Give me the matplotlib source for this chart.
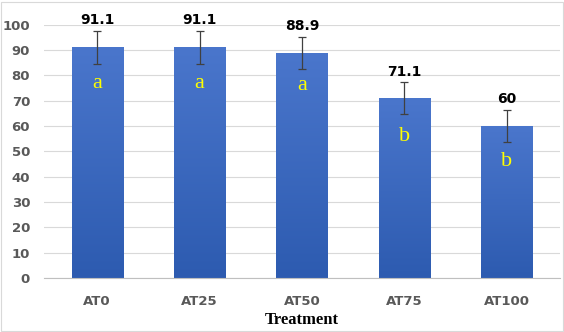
import matplotlib
matplotlib.use("Agg")
import matplotlib.pyplot as plt
import numpy as np
from matplotlib.patches import Rectangle
from matplotlib.colors import LinearSegmentedColormap

categories = ["AT0", "AT25", "AT50", "AT75", "AT100"]
values = [91.1, 91.1, 88.9, 71.1, 60]
errors = [6.5, 6.5, 6.5, 6.2, 6.3]
value_labels = ["91.1", "91.1", "88.9", "71.1", "60"]
letters = ["a", "a", "a", "b", "b"]
letter_y = [77, 77, 76, 56, 46]

fig = plt.figure(figsize=(5.64, 3.32), dpi=100)
ax = fig.add_axes([0.078, 0.163, 0.915, 0.762])
x = np.arange(len(categories))
bars = ax.bar(x, values, width=0.5, color="#4472C4", zorder=2)

grad = np.linspace(0, 1, 256).reshape(-1, 1)
cmap = LinearSegmentedColormap.from_list("g", ["#2D5BB0", "#4A76CC"])
for b in bars:
    im = ax.imshow(grad, extent=[b.get_x(), b.get_x() + b.get_width(), 0, b.get_height()],
                   origin="lower", aspect="auto", cmap=cmap, zorder=2.5)
    im.set_clip_path(b)

ax.errorbar(x, values, yerr=errors, fmt="none", ecolor="#404040", elinewidth=0.9,
            capsize=3, capthick=0.9, zorder=4)

for i in range(len(categories)):
    ax.text(x[i], values[i] + errors[i] + 1.5, value_labels[i], ha="center", va="bottom",
            fontsize=10, fontweight="bold", color="#000000", clip_on=False)
    ax.text(x[i], letter_y[i], letters[i], ha="center", va="center", fontsize=16,
            color="#FFFF00", family="Liberation Serif", zorder=5)

ax.set_xlim(-0.52, 4.52)
ax.set_ylim(0, 100)
ax.set_yticks(np.arange(0, 101, 10))
ax.set_xticks(x)
ax.set_xticklabels(categories)
ax.yaxis.grid(True, color="#D9D9D9", linewidth=0.8, zorder=0)
ax.set_axisbelow(True)
for s in ["top", "right", "left"]:
    ax.spines[s].set_visible(False)
ax.spines["bottom"].set_color("#BFBFBF")
ax.tick_params(axis="y", length=0, labelsize=9.5, labelcolor="#595959", pad=10)
ax.tick_params(axis="x", length=0, labelsize=9.5, labelcolor="#595959", pad=12)
for lab in ax.get_xticklabels() + ax.get_yticklabels():
    lab.set_fontweight("bold")
ax.set_xlabel("Treatment", family="Liberation Serif", fontweight="bold", fontsize=12,
              labelpad=3)

fig.patches.append(Rectangle((0.002, 0.002), 0.996, 0.993, transform=fig.transFigure,
                             fill=False, edgecolor="#D9D9D9", linewidth=0.8))
fig.savefig("out.png", dpi=100)
